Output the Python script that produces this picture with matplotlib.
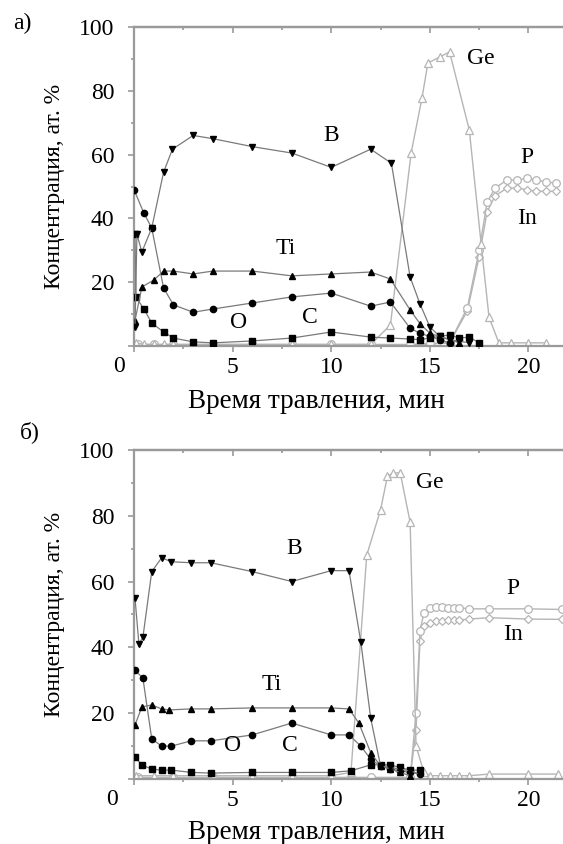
import numpy as np
import matplotlib.pyplot as plt
from matplotlib.ticker import MultipleLocator, FixedLocator, NullFormatter

plt.rcParams["font.family"] = ["Liberation Serif", "DejaVu Serif"]
plt.rcParams["font.size"] = 17

# ---------------- panel a) ----------------
a_b_t = [0.05, 0.15, 0.4, 0.9, 1.5, 1.95, 3.0, 4.0, 6.0, 8.0, 10.0, 12.0, 13.05, 14.0, 14.5, 15.0, 15.5, 16.0, 16.5, 17.0]
a_b_c = [6, 35, 29.5, 37, 54.5, 61.7, 66, 65, 62.5, 60.5, 56, 61.7, 57.3, 21.6, 13.2, 6, 3, 2, 1.5, 1]

a_ti_t = [0.05, 0.4, 1.0, 1.5, 2.0, 3.0, 4.0, 6.0, 8.0, 10.0, 12.0, 13.0, 14.0, 14.5, 15.0, 15.5, 16.0, 16.5]
a_ti_c = [8, 18.5, 20.7, 23.5, 23.5, 22.6, 23.5, 23.5, 22, 22.6, 23.2, 21, 11.3, 7, 4, 3, 2, 1]

a_c_t = [0.0, 0.5, 0.9, 1.5, 2.0, 3.0, 4.0, 6.0, 8.0, 10.0, 12.0, 13.0, 14.0, 14.5, 15.0, 15.5, 16.0]
a_c_c = [49, 41.7, 37, 18.2, 12.9, 10.6, 11.6, 13.5, 15.4, 16.6, 12.5, 13.8, 5.6, 4, 3, 2, 1]

a_o_t = [0.05, 0.1, 0.5, 0.9, 1.5, 2.0, 3.0, 4.0, 6.0, 8.0, 10.0, 12.0, 13.0, 14.0, 14.5, 15.0, 15.5, 16.0, 16.5, 17.0, 17.5]
a_o_c = [35, 15.4, 11.6, 7.2, 4.4, 2.5, 1.3, 1.0, 1.6, 2.5, 4.4, 2.8, 2.5, 2.2, 2.0, 2.5, 3.0, 3.5, 2.5, 2.8, 1.0]

a_ge_t = [0.1, 0.5, 1.0, 1.5, 2.0, 3.0, 4.0, 6.0, 8.0, 10.0, 12.0, 13.0, 14.05, 14.6, 14.9, 15.5, 16.0, 17.0, 17.6, 18.0, 18.5, 19.1, 20.0, 20.9]
a_ge_c = [1, 0.5, 0.5, 0.5, 0.5, 0.5, 0.5, 0.5, 0.5, 0.5, 0.5, 6.6, 60.5, 77.7, 88.7, 90.6, 92.2, 67.7, 32, 9, 1, 1, 1, 1]

a_pin_t = [0.2, 1.0, 2.0, 4.0, 6.0, 8.0, 10.0, 12.0, 14.0, 15.0, 16.0, 16.9, 17.5, 17.9, 18.3, 18.9, 19.4, 19.95, 20.4, 20.9, 21.4]
a_p_c = [0.5, 0.5, 0.5, 0.5, 0.5, 0.5, 0.5, 0.5, 0.5, 0.8, 1, 12, 30, 45, 49.5, 52, 52, 52.6, 52, 51.5, 51]
a_in_c = [0.3, 0.3, 0.3, 0.3, 0.3, 0.3, 0.3, 0.3, 0.3, 0.6, 1, 11, 28, 42, 47, 49.5, 49.5, 49, 48.5, 48.5, 48.5]

# ---------------- panel б) ----------------
b_b_t = [0.05, 0.25, 0.45, 0.9, 1.4, 1.9, 2.9, 3.9, 6.0, 8.0, 10.0, 10.9, 11.5, 12.0, 12.5, 13.0, 13.5, 14.0, 14.5]
b_b_c = [55, 41, 43, 63, 67.2, 66, 65.7, 65.7, 63, 60, 63.3, 63.3, 41.6, 18.5, 4, 3.5, 3, 2.5, 1.5]

b_ti_t = [0.05, 0.4, 0.9, 1.4, 1.8, 2.9, 3.9, 6.0, 8.0, 10.0, 10.9, 11.4, 12.0, 12.5, 13.0, 13.5, 14.0]
b_ti_c = [16.4, 21.9, 22.5, 21.3, 21, 21.3, 21.3, 21.6, 21.6, 21.6, 21.3, 17, 8, 4, 3, 2, 1]

b_c_t = [0.05, 0.45, 0.9, 1.4, 1.9, 2.9, 3.9, 6.0, 8.0, 10.0, 10.9, 11.5, 12.0, 12.5, 13.0, 13.5, 14.0, 14.5]
b_c_c = [33, 30.7, 12.2, 10, 10, 11.6, 11.6, 13.4, 17, 13.4, 13.4, 10, 6, 4, 3, 2.5, 2, 1.5]

b_o_t = [0.05, 0.4, 0.9, 1.4, 1.9, 2.9, 3.9, 6.0, 8.0, 10.0, 11.0, 12.0, 12.5, 13.0, 13.5, 14.0, 14.5]
b_o_c = [6.7, 4.3, 3.0, 2.7, 2.7, 2.0, 1.8, 2.0, 2.0, 2.0, 2.5, 4.3, 4.3, 4.3, 3.5, 2.7, 2.7]

b_ge_t = [0.1, 1.0, 2.0, 4.0, 6.0, 8.0, 10.0, 11.0, 11.8, 12.5, 12.85, 13.15, 13.5, 14.0, 14.3, 14.7, 15.0, 15.5, 16.0, 16.5, 17.0, 18.0, 20.0, 21.5]
b_ge_c = [1, 1, 1, 1, 1, 1, 1, 2, 68, 81.8, 92, 93, 93, 78, 10, 2, 1, 1, 1, 1, 1, 1.5, 1.5, 1.5]

b_pin_t = [0.2, 2.0, 4.0, 6.0, 8.0, 10.0, 12.0, 14.0, 14.3, 14.5, 14.7, 15.0, 15.3, 15.6, 15.9, 16.2, 16.5, 17.0, 18.0, 20.0, 21.7]
b_p_c = [0.5, 0.5, 0.5, 0.5, 0.5, 0.5, 0.5, 0.5, 20, 45, 50.5, 52, 52.3, 52.3, 52, 52, 52, 51.7, 51.7, 51.7, 51.5]
b_in_c = [0.3, 0.3, 0.3, 0.3, 0.3, 0.3, 0.3, 0.3, 15, 42, 46.5, 47.5, 48, 48, 48.3, 48.3, 48.3, 48.6, 49, 48.6, 48.5]

LINE = "#7a7a7a"
LIGHT = "#b5b5b5"
SPINE = "#9a9a9a"


def dark(ax, t, c, m, ms=4.5):
    ax.plot(t, c, color=LINE, lw=0.9, marker=m, ms=ms, mfc="black", mec="black", zorder=3)


def light(ax, t, c, m, ms=5.5):
    ax.plot(t, c, color=LIGHT, lw=1.0, marker=m, ms=ms, mfc="white", mec=LIGHT, mew=0.9, zorder=2)


def style(ax, zero_x, xlab_y):
    ax.set_xlim(0, 21.75)
    ax.set_ylim(0, 100)
    ax.xaxis.set_major_locator(FixedLocator([0, 5, 10, 15, 20]))
    ax.set_xticklabels(["", "5", "10", "15", "20"])
    ax.xaxis.set_minor_locator(MultipleLocator(2.5))
    ax.yaxis.set_major_locator(FixedLocator([0, 20, 40, 60, 80, 100]))
    ax.set_yticklabels(["", "20", "40", "60", "80", "100"])
    ax.yaxis.set_minor_locator(MultipleLocator(10))
    ax.tick_params(which="both", direction="out", color=SPINE, top=False, right=False,
                   labelsize=17, width=1.2)
    ax.tick_params(axis="y", which="both", pad=10)
    ax.tick_params(axis="x", which="both", pad=4)
    ax.tick_params(which="major", length=4)
    ax.tick_params(which="minor", length=2.5)
    # inward ticks along the top edge
    top = ax.secondary_xaxis("top")
    top.xaxis.set_major_locator(FixedLocator([0, 5, 10, 15, 20]))
    top.xaxis.set_minor_locator(MultipleLocator(2.5))
    top.xaxis.set_major_formatter(NullFormatter())
    top.tick_params(which="both", direction="in", color=SPINE, width=1.2)
    top.tick_params(which="major", length=4)
    top.tick_params(which="minor", length=2.5)
    top.spines["top"].set_color(SPINE)
    top.spines["top"].set_linewidth(1.6)
    for s in ["left", "bottom", "top"]:
        ax.spines[s].set_color(SPINE)
        ax.spines[s].set_linewidth(1.6)
    ax.spines["right"].set_visible(False)
    ax.text(zero_x, -0.03, "0", transform=ax.transAxes, ha="center", va="top", fontsize=17)
    ax.set_xlabel("Время травления, мин", fontsize=19.5)
    ax.xaxis.set_label_coords(0.425, xlab_y)
    ax.set_ylabel("Концентрация, ат. %", fontsize=17)
    ax.yaxis.set_label_coords(-0.16, 0.5)


fig = plt.figure(figsize=(5.63, 8.44), dpi=100)
ax1 = fig.add_axes([0.238, 0.590, 0.762, 0.378])
ax2 = fig.add_axes([0.238, 0.077, 0.762, 0.390])

# panel a
light(ax1, a_pin_t, a_in_c, "D", 4.5)
light(ax1, a_pin_t, a_p_c, "o")
light(ax1, a_ge_t, a_ge_c, "^")
dark(ax1, a_o_t, a_o_c, "s")
dark(ax1, a_c_t, a_c_c, "o")
dark(ax1, a_ti_t, a_ti_c, "^")
dark(ax1, a_b_t, a_b_c, "v")
style(ax1, -0.035, -0.135)
for x, y, s in [(10.0, 66, "B"), (7.7, 30.7, "Ti"), (5.3, 7.5, "O"), (8.9, 8.8, "C"),
                (17.6, 90, "Ge"), (19.9, 59, "P"), (19.9, 40, "In")]:
    ax1.text(x, y, s, ha="center", va="center", fontsize=17)

# panel б
light(ax2, b_pin_t, b_in_c, "D", 4.5)
light(ax2, b_pin_t, b_p_c, "o")
light(ax2, b_ge_t, b_ge_c, "^")
dark(ax2, b_o_t, b_o_c, "s", 4)
dark(ax2, b_c_t, b_c_c, "o")
dark(ax2, b_ti_t, b_ti_c, "^")
dark(ax2, b_b_t, b_b_c, "v")
style(ax2, -0.051, -0.125)
for x, y, s in [(8.1, 70, "B"), (7.0, 28.6, "Ti"), (5.0, 10.3, "O"), (7.9, 10.3, "C"),
                (15.0, 90, "Ge"), (19.2, 58, "P"), (19.2, 43.8, "In")]:
    ax2.text(x, y, s, ha="center", va="center", fontsize=17)

fig.text(22 / 563, 1 - 23 / 844, "а)", ha="center", va="center", fontsize=17)
fig.text(30 / 563, 1 - 432 / 844, "б)", ha="center", va="center", fontsize=17)

fig.savefig("out.png", dpi=100)
